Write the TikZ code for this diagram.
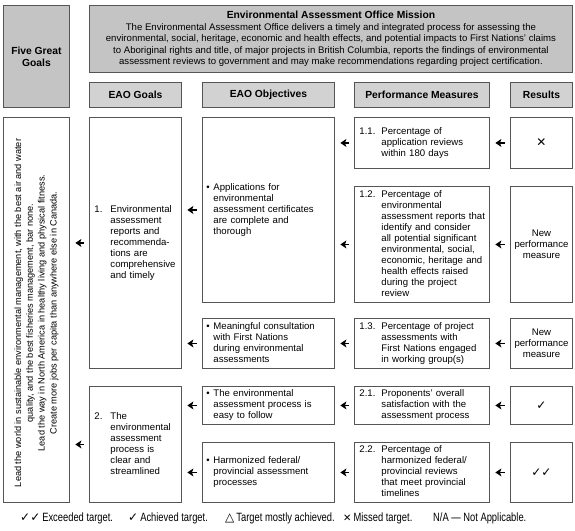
\documentclass[tikz,border=0pt]{standalone}
\usepackage{fontspec}
\setmainfont{Liberation Sans}
\newfontfamily\symfont{DejaVu Sans}
\newfontfamily\condfont[FakeStretch=0.78]{Liberation Sans}
\usetikzlibrary{arrows.meta}
\definecolor{boxline}{HTML}{555555}
\definecolor{hdrfill}{HTML}{D2D2D2}
\definecolor{misfill}{HTML}{C4C4C4}
\newcommand\hangit[3]{\begin{tabular}[c]{@{}p{#1}@{}l@{}}#2&\begin{tabular}[t]{@{}l@{}}#3\end{tabular}\end{tabular}}
\tikzset{
  box/.style={draw=boxline, line width=0.9pt, anchor=north west, inner xsep=5pt, inner ysep=0pt,
    font=\fontsize{9.6}{11}\selectfont},
  hdr/.style={box, fill=hdrfill, font=\fontsize{10.3}{12}\selectfont\bfseries, align=center},
  cellsz/.style n args={2}{minimum width=#1, minimum height=#2},
  arr/.style={-{Stealth[length=6pt,width=8pt,inset=1.5pt]}, line width=1.8pt, shorten <=5.5pt, shorten >=5.5pt},
  legend/.style={anchor=west, inner sep=0pt, font=\fontsize{12}{13}\condfont},
}
\begin{document}
\begin{tikzpicture}[x=1pt,y=-1pt]
\useasboundingbox (0,0) rectangle (575,530);
% headers
\node[hdr, fill=misfill, cellsz={66pt}{102pt}] (five) at (3,5) {Five Great\\Goals};
\node[box, fill=misfill, cellsz={483pt}{67pt}, align=center, font=\fontsize{9.6}{11.6}\selectfont] (mission) at (89,5)
  {{\fontsize{10.3}{12}\selectfont\bfseries Environmental Assessment Office Mission}\\
   The Environmental Assessment Office delivers a timely and integrated process for assessing the\\
   environmental, social, heritage, economic and health effects, and potential impacts to First Nations' claims\\
   to Aboriginal rights and title, of major projects in British Columbia, reports the findings of environmental\\
   assessment reviews to government and may make recommendations regarding project certification.};
\node[hdr, cellsz={92pt}{25pt}] (hgoals) at (89,82) {EAO Goals};
\node[hdr, cellsz={132pt}{25pt}] (hobj) at (202,82) {EAO Objectives};
\node[hdr, cellsz={135pt}{25pt}] (hpm) at (354,82) {Performance Measures};
\node[hdr, cellsz={62pt}{25pt}] (hres) at (510,82) {Results};
% great goals body
\node[box, cellsz={66pt}{385pt}] (fivebody) at (3,117) {};
\node[rotate=90, align=center, inner sep=0pt, font=\fontsize{9.2}{11.8}\selectfont] (fivetext) at ([yshift=-3pt]fivebody.center)
  {Lead the world in sustainable environmental management, with the best air and water\\
   quality, and the best fisheries management, bar none.\\
   Lead the way in North America in healthy living and physical fitness.\\
   Create more jobs per capita than anywhere else in Canada.};
% EAO goals
\node[box, cellsz={92pt}{251pt}, text width=82pt] (goal1) at (89,117)
  {\hangit{16pt}{1.}{Environmental\\assessment\\reports and\\recommenda-\\tions are\\comprehensive\\and timely}};
\node[box, cellsz={92pt}{116pt}, text width=82pt] (goal2) at (89,386)
  {\hangit{16pt}{2.}{The\\environmental\\assessment\\process is\\clear and\\streamlined}};
% objectives
\node[box, cellsz={132pt}{185pt}, text width=124pt, inner xsep=4pt] (obj1) at (202,117)
  {\hangit{7pt}{\textbullet}{Applications for\\environmental\\assessment certificates\\are complete and\\thorough}};
\node[box, cellsz={132pt}{50pt}, text width=124pt, inner xsep=4pt] (obj2) at (202,318)
  {\hangit{7pt}{\textbullet}{Meaningful consultation\\with First Nations\\during environmental\\assessments}};
\node[box, cellsz={132pt}{38pt}, text width=124pt, inner xsep=4pt] (obj3) at (202,386)
  {\hangit{7pt}{\textbullet}{The environmental\\assessment process is\\easy to follow}};
\node[box, cellsz={132pt}{60pt}, text width=124pt, inner xsep=4pt] (obj4) at (202,442)
  {\hangit{7pt}{\textbullet}{Harmonized federal/\\provincial assessment\\processes}};
% performance measures
\node[box, cellsz={135pt}{51pt}, text width=125pt] (pm11) at (354,117)
  {\hangit{22pt}{1.1.}{Percentage of\\application reviews\\within 180 days}\\[9pt]};
\node[box, cellsz={135pt}{116pt}, text width=125pt] (pm12) at (354,186)
  {\hangit{22pt}{1.2.}{Percentage of\\environmental\\assessment reports that\\identify and consider\\all potential significant\\environmental, social,\\economic, heritage and\\health effects raised\\during the project\\review}};
\node[box, cellsz={135pt}{50pt}, text width=125pt] (pm13) at (354,318)
  {\hangit{22pt}{1.3.}{Percentage of project\\assessments with\\First Nations engaged\\in working group(s)}};
\node[box, cellsz={135pt}{38pt}, text width=125pt] (pm21) at (354,386)
  {\hangit{22pt}{2.1.}{Proponents' overall\\satisfaction with the\\assessment process}};
\node[box, cellsz={135pt}{60pt}, text width=125pt] (pm22) at (354,442)
  {\hangit{22pt}{2.2.}{Percentage of\\harmonized federal/\\provincial reviews\\that meet provincial\\timelines}};
% results
\node[box, cellsz={62pt}{51pt}, inner xsep=0pt] (r11) at (510,117) {\symfont\fontsize{12}{12}\selectfont ✕};
\node[box, cellsz={62pt}{116pt}, inner xsep=0pt, align=center] (r12) at (510,186) {New\\performance\\measure};
\node[box, cellsz={62pt}{50pt}, inner xsep=0pt, align=center] (r13) at (510,318) {New\\performance\\measure};
\node[box, cellsz={62pt}{38pt}, inner xsep=0pt] (r21) at (510,386) {\symfont\fontsize{12}{12}\selectfont ✓};
\node[box, cellsz={62pt}{60pt}, inner xsep=0pt] (r22) at (510,442) {\symfont\fontsize{12}{12}\selectfont ✓✓};
% arrows
\foreach \s/\t in {r11/pm11, r12/pm12, r13/pm13, r21/pm21, r22/pm22,
                   pm11/obj1, pm12/obj1, pm13/obj2, pm21/obj3, pm22/obj4,
                   obj1/goal1, obj2/goal1, obj3/goal2, obj4/goal2,
                   goal1/fivebody, goal2/fivebody}
  \draw[arr] (\s.west) -- (\s.west -| \t.east);
% legend
\node[legend] (lg1) at (20,518) {{\symfont\fontsize{12}{13}\selectfont ✓✓}\,Exceeded target.};
\node[legend] (lg2) at (128,518) {{\symfont\fontsize{12}{13}\selectfont ✓}\,Achieved target.};
\node[legend] (lg3) at (225,518) {{\symfont\fontsize{12}{13}\selectfont △}\,Target mostly achieved.};
\node[legend] (lg4) at (343,518) {{\symfont\fontsize{10}{13}\selectfont\bfseries ✕}\,Missed target.};
\node[legend] (lg5) at (433,518) {N/A — Not Applicable.};
\end{tikzpicture}
\end{document}
